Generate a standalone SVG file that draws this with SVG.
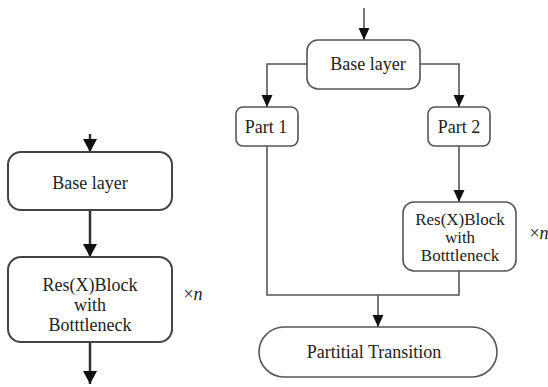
<svg xmlns="http://www.w3.org/2000/svg" width="548" height="387" viewBox="0 0 548 387">
<style>
.box{fill:#fff;stroke:#555;stroke-width:1.6}
.boxL{fill:#fff;stroke:#444;stroke-width:2}
.c{fill:none;stroke:#555;stroke-width:1.6}
.cL{fill:none;stroke:#333;stroke-width:2.5}
</style>
<defs>
<marker id="ah" markerUnits="userSpaceOnUse" markerWidth="12" markerHeight="12" refX="12" refY="5.5" orient="auto">
<path d="M0,0 L12,5.5 L0,11 Z" fill="#111"/>
</marker>
<marker id="ahL" markerUnits="userSpaceOnUse" markerWidth="14" markerHeight="14" refX="13" refY="7" orient="auto">
<path d="M0,0 L13,7 L0,14 Z" fill="#111"/>
</marker>
</defs>
<rect width="548" height="387" fill="#fff"/>
<g id="connectors">
<line class="cL" x1="90" y1="134" x2="90" y2="152" marker-end="url(#ahL)"/>
<line class="cL" x1="90" y1="210" x2="90" y2="257" marker-end="url(#ahL)"/>
<line class="cL" x1="90" y1="342" x2="90" y2="384" marker-end="url(#ahL)"/>
<line class="c" x1="364" y1="8" x2="364" y2="40" marker-end="url(#ah)"/>
<polyline class="c" points="307,64 267,64 267,107" marker-end="url(#ah)"/>
<polyline class="c" points="420,64 459,64 459,107" marker-end="url(#ah)"/>
<line class="c" x1="459" y1="146" x2="459" y2="202" marker-end="url(#ah)"/>
<polyline class="c" points="267,146 267,295 459,295 459,271"/>
<line class="c" x1="378" y1="295" x2="378" y2="327" marker-end="url(#ah)"/>
</g>
<g id="left-base">
<rect class="boxL" x="8" y="152" width="164" height="58" rx="13"/>
<text font-family="Liberation Serif" font-size="18" fill="#222" text-anchor="middle" x="90" y="189">Base layer</text>
</g>
<g id="left-res">
<rect class="boxL" x="8" y="257" width="164" height="85" rx="13"/>
<text font-family="Liberation Serif" font-size="18" fill="#222" text-anchor="middle" x="90" y="291">Res(X)Block</text>
<text font-family="Liberation Serif" font-size="18" fill="#222" text-anchor="middle" x="90" y="311">with</text>
<text font-family="Liberation Serif" font-size="18" fill="#222" text-anchor="middle" x="90" y="331">Botttleneck</text>
</g>
<g id="left-xn">
<text font-family="Liberation Serif" font-size="18" fill="#222" text-anchor="middle" x="193" y="300">×<tspan font-style="italic">n</tspan></text>
</g>
<g id="right-base">
<rect class="box" x="307" y="40" width="113" height="49" rx="11"/>
<text font-family="Liberation Serif" font-size="18" fill="#222" text-anchor="middle" x="368" y="70">Base layer</text>
</g>
<g id="part1">
<rect class="box" x="236" y="107" width="62" height="39" rx="7"/>
<text font-family="Liberation Serif" font-size="18" fill="#222" text-anchor="middle" x="266" y="133">Part 1</text>
</g>
<g id="part2">
<rect class="box" x="428" y="107" width="62" height="39" rx="7"/>
<text font-family="Liberation Serif" font-size="18" fill="#222" text-anchor="middle" x="459" y="133">Part 2</text>
</g>
<g id="right-res">
<rect class="box" x="403" y="202" width="113" height="69" rx="11"/>
<text font-family="Liberation Serif" font-size="17" fill="#222" text-anchor="middle" x="460" y="225">Res(X)Block</text>
<text font-family="Liberation Serif" font-size="17" fill="#222" text-anchor="middle" x="460" y="243">with</text>
<text font-family="Liberation Serif" font-size="17" fill="#222" text-anchor="middle" x="460" y="261">Botttleneck</text>
</g>
<g id="right-xn">
<text font-family="Liberation Serif" font-size="18" fill="#222" text-anchor="middle" x="539" y="239">×<tspan font-style="italic">n</tspan></text>
</g>
<g id="partial-transition">
<rect class="box" x="259" y="327" width="238" height="50" rx="25"/>
<text font-family="Liberation Serif" font-size="18" fill="#222" text-anchor="middle" x="374" y="358">Partitial Transition</text>
</g>
</svg>
